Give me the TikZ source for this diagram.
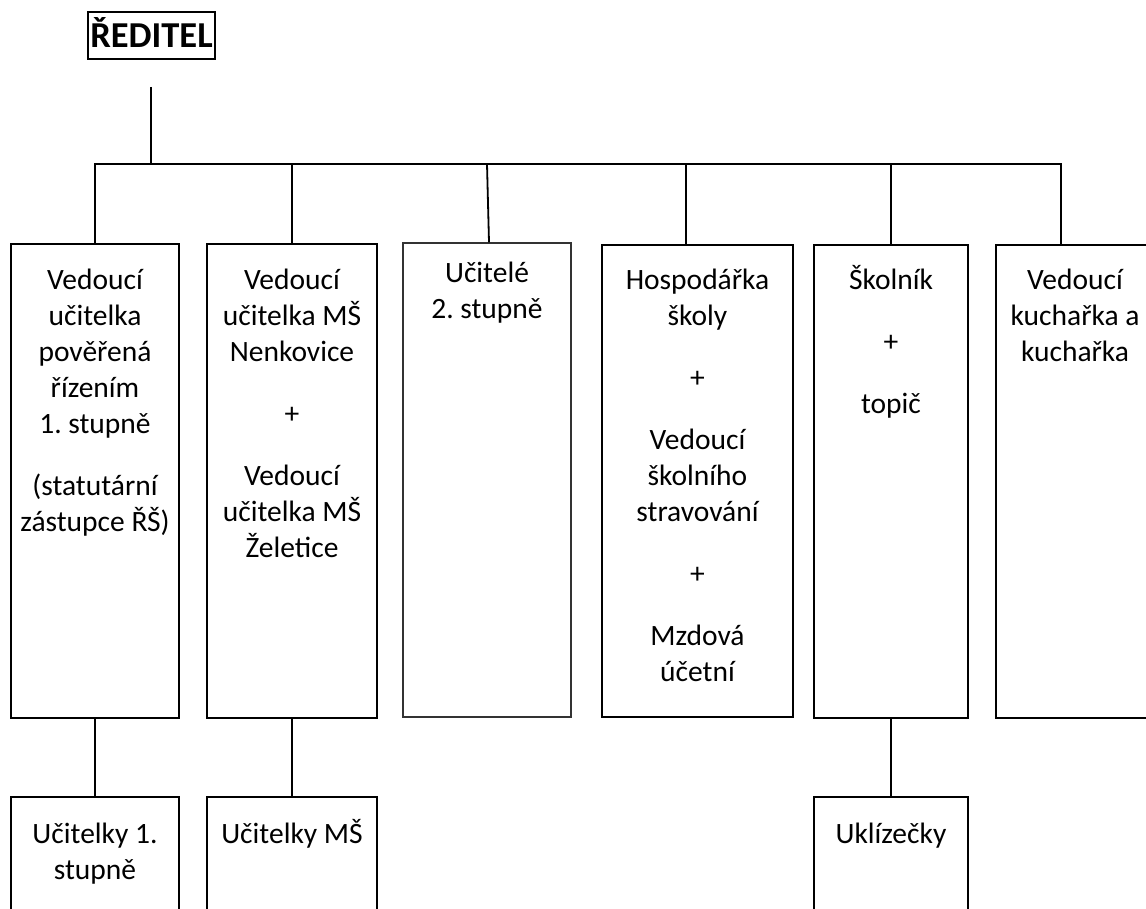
\documentclass[tikz,border=0pt]{standalone}
\usepackage{fontspec}
\setmainfont{Carlito}
\frenchspacing
\newcommand\mystrut{\rule{0pt}{30pt}}
\begin{document}
\begin{tikzpicture}[x=1pt,y=-1pt,
  box/.style={draw, line width=1.8pt, inner sep=0pt},
  thinbox/.style={draw=black!80, line width=1.3pt, inner sep=0pt},
  txt/.style={anchor=north, inner sep=0pt, align=center, font=\fontsize{29.5pt}{36pt}\selectfont},
  conn/.style={line width=1.8pt},
]
\fill[white] (0,0) rectangle (1146,909);
\clip (0,0) rectangle (1146,909);

% director
\node[box, minimum width=127pt, minimum height=47pt, text height=24pt, text depth=0pt,
      font=\fontsize{36.5pt}{40pt}\selectfont\bfseries] (r) at (151.5,35.5) {ŘEDITEL};

% first-level boxes
\node[box, minimum width=168pt, minimum height=474pt] (b1) at (95,481) {};
\node[box, minimum width=170pt, minimum height=474pt] (b2) at (292,481) {};
\node[thinbox, minimum width=168pt, minimum height=474pt] (b3) at (487,480) {};
\node[box, minimum width=191pt, minimum height=472pt] (b4) at (697.5,481) {};
\node[box, minimum width=154pt, minimum height=473pt] (b5) at (891,481.5) {};
\node[box, minimum width=160pt, minimum height=473pt] (b6) at (1076,481.5) {};

% second-level boxes
\node[box, minimum width=168pt, minimum height=143pt] (c1) at (95,868.5) {};
\node[box, minimum width=170pt, minimum height=143pt] (c2) at (292,868.5) {};
\node[box, minimum width=154pt, minimum height=143pt] (c3) at (891,868.5) {};

% texts
\node[txt] (t1) at (95,259) {\mystrut Vedoucí\\učitelka\\pověřená\\řízením\\1. stupně\\[26pt](statutární\\zástupce ŘŠ)};
\node[txt] (t2) at (292,259) {\mystrut Vedoucí\\učitelka MŠ\\Nenkovice\\[26pt]+\\[26pt]Vedoucí\\učitelka MŠ\\Želetice};
\node[txt] (t3) at (487,252) {\mystrut Učitelé\\2. stupně};
\node[txt] (t4) at (697.5,259) {\mystrut Hospodářka\\školy\\[26pt]+\\[26pt]Vedoucí\\školního\\stravování\\[26pt]+\\[26pt]Mzdová\\účetní};
\node[txt] (t5) at (891,259) {\mystrut Školník\\[26pt]+\\[26pt]topič};
\node[txt] (t6) at (1075,259) {\mystrut Vedoucí\\kuchařka a\\kuchařka};
\node[txt] (u1) at (95,813) {\mystrut Učitelky 1.\\stupně};
\node[txt] (u2) at (292,813) {\mystrut Učitelky MŠ};
\node[txt] (u3) at (891,813) {\mystrut Uklízečky};

% connectors
\coordinate (rtop) at (151,87);
\coordinate (j) at (151,164);
\draw[conn] (rtop) -- (j);
\draw[conn] (b1.north) -- (b1.north |- j) -- ([xshift=-15pt]b6.north |- j) -- ([xshift=-15pt]b6.north);
\draw[conn] (b2.north) -- (b2.north |- j);
\draw[conn] ([xshift=2pt]b3.north) -- (b3.north |- j);
\draw[conn] ([xshift=-11.5pt]b4.north) -- ([xshift=-11.5pt]b4.north |- j);
\draw[conn] (b5.north) -- (b5.north |- j);
\draw[conn] (b1.south) -- (c1.north);
\draw[conn] (b2.south) -- (c2.north);
\draw[conn] (b5.south) -- (c3.north);
\end{tikzpicture}
\end{document}
